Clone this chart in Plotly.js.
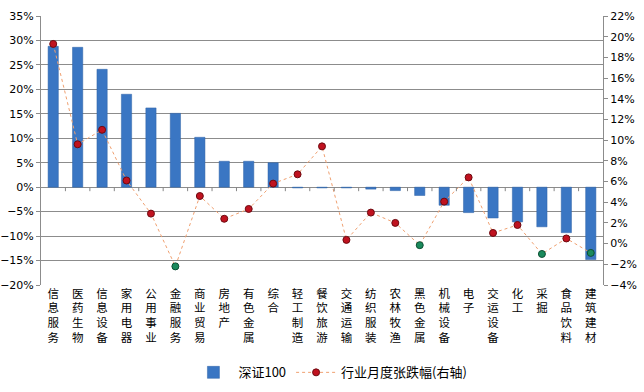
<!DOCTYPE html>
<html>
<head>
<meta charset="utf-8">
<script src="https://cdn.plot.ly/plotly-3.0.1.min.js"></script>
<style>html,body{margin:0;padding:0;background:#fff;}#chart{width:644px;height:392px;}</style>
</head>
<body>
<div id="chart"></div>
<script>
const categories = ["信息服务","医药生物","信息设备","家用电器","公用事业","金融服务","商业贸易","房地产","有色金属","综合","轻工制造","餐饮旅游","交通运输","纺织服装","农林牧渔","黑色金属","机械设备","电子","交运设备","化工","采掘","食品饮料","建筑建材"];
const szIndex = [28.8,28.6,24.1,19.0,16.2,15.1,10.2,5.3,5.3,5.0,-0.15,-0.15,-0.15,-0.4,-0.7,-1.7,-3.7,-5.2,-6.3,-7.1,-8.1,-9.3,-14.8];
const industryMonthly = [19.3,9.6,11.0,6.1,2.9,-2.2,4.6,2.4,3.35,5.8,6.7,9.4,0.36,3.0,2.0,-0.15,4.06,6.4,1.03,1.8,-1.0,0.5,-0.9];
const barName = "深证100";
const lineName = "行业月度张跌幅(右轴)";

const tickText = categories.map(c => c.split('').join('<br>'));
const markerColors = industryMonthly.map(v => v < 0 ? '#1a8a5c' : '#c0121f');
const markerLines = industryMonthly.map(v => v < 0 ? '#0d4f33' : '#6e0a10');

const traces = [
  {
    type: 'bar', x: categories, y: szIndex, name: barName,
    marker: {color: '#3a76c3', line: {color: '#2e62a6', width: 0.5}},
    yaxis: 'y'
  },
  {
    type: 'scatter', mode: 'lines+markers', x: categories, y: industryMonthly, name: lineName,
    line: {color: '#f0a070', width: 1, dash: 'dot'},
    marker: {color: markerColors, size: 7, line: {color: markerLines, width: 1}},
    yaxis: 'y2'
  }
];

const shapes = categories.slice(1).map((c, i) => ({
  type: 'line', xref: 'x', yref: 'y', x0: i + 0.5, x1: i + 0.5,
  ysizemode: 'pixel', yanchor: 0, y0: 0, y1: -4,
  line: {color: '#868686', width: 1}
}));

const layout = {
  width: 644, height: 392,
  margin: {l: 41, r: 41, t: 16, b: 107},
  paper_bgcolor: '#fff', plot_bgcolor: '#fff',
  font: {family: 'DejaVu Sans, Verdana, sans-serif', size: 11, color: '#000'},
  showlegend: true,
  bargap: 0.58,
  xaxis: {
    type: 'category', range: [-0.5, categories.length - 0.5],
    tickvals: categories, ticktext: tickText,
    tickfont: {family: 'Noto Sans CJK SC, sans-serif', size: 11.5, color: '#000'},
    showline: false, ticks: '', showgrid: false, fixedrange: true
  },
  yaxis: {
    range: [-20, 35], dtick: 5, tick0: 0, ticksuffix: '%',
    showgrid: true, gridcolor: '#8c8c8c', gridwidth: 1,
    showline: true, linecolor: '#8c8c8c', linewidth: 1,
    ticks: 'outside', ticklen: 4, tickcolor: '#8c8c8c',
    zeroline: true, zerolinecolor: '#8c8c8c', zerolinewidth: 1,
    tickfont: {size: 11}
  },
  yaxis2: {
    overlaying: 'y', side: 'right',
    range: [-4, 22], dtick: 2, tick0: 0, ticksuffix: '%',
    showgrid: false, zeroline: false,
    showline: true, linecolor: '#8c8c8c', linewidth: 1,
    ticks: 'outside', ticklen: 4, tickcolor: '#8c8c8c',
    tickfont: {size: 11}
  },
  legend: {
    orientation: 'h', x: 0.515, xanchor: 'center',
    yref: 'container', y: 0.05, yanchor: 'middle',
    font: {family: 'Noto Sans CJK SC, sans-serif', size: 13, color: '#000'},
    traceorder: 'normal', itemwidth: 40, tracegroupgap: 0
  },
  shapes: shapes
};

Plotly.newPlot('chart', traces, layout, {displayModeBar: false, staticPlot: true});
</script>
</body>
</html>
